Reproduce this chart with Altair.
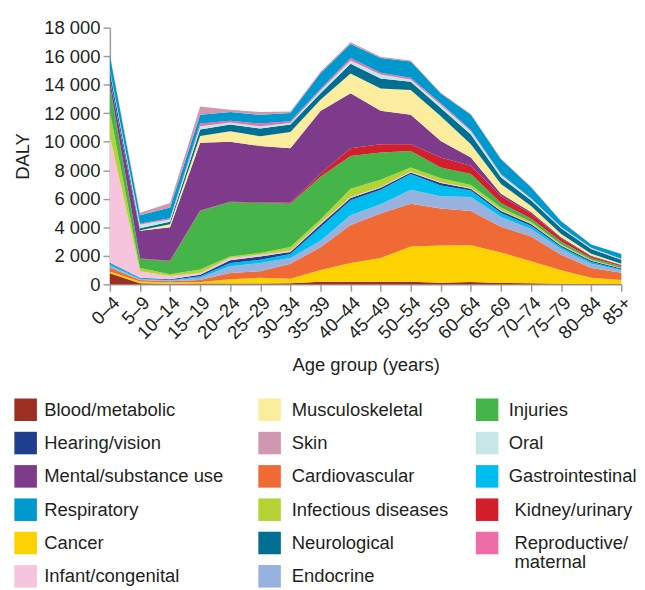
import altair as alt
import pandas as pd

ages = ["0–4", "5–9", "10–14", "15–19", "20–24", "25–29", "30–34", "35–39", "40–44",
        "45–49", "50–54", "55–59", "60–64", "65–69", "70–74", "75–79", "80–84", "85+"]

# stacking order (bottom to top)
categories = ["Blood/metabolic", "Cancer", "Cardiovascular", "Endocrine", "Gastrointestinal",
              "Hearing/vision", "Infant/congenital", "Infectious diseases", "Injuries",
              "Kidney/urinary", "Mental/substance use", "Musculoskeletal", "Neurological",
              "Oral", "Reproductive/maternal", "Respiratory", "Skin"]

blood_metabolic = [780, 80, 50, 60, 60, 60, 70, 180, 180, 180, 180, 120, 160, 100, 70, 50, 30, 20]
cancer = [120, 120, 80, 100, 290, 400, 320, 820, 1320, 1670, 2480, 2600, 2590, 2140, 1550, 940, 430, 280]
cardiovascular = [280, 100, 80, 140, 450, 460, 1060, 1600, 2660, 3120, 3000, 2590, 2400, 1800, 1730, 1090, 690, 510]
endocrine = [120, 60, 60, 160, 470, 580, 400, 450, 690, 640, 970, 860, 970, 690, 530, 390, 300, 180]
gastrointestinal = [170, 60, 40, 100, 230, 230, 270, 950, 1040, 1020, 1110, 760, 460, 280, 230, 140, 120, 50]
hearing_vision = [50, 40, 40, 110, 190, 230, 140, 200, 160, 140, 110, 180, 120, 140, 120, 90, 90, 70]
infant_congenital = [8880, 460, 230, 130, 160, 120, 90, 100, 70, 60, 70, 50, 50, 40, 30, 20, 10, 10]
infectious = [1700, 230, 120, 240, 110, 110, 260, 250, 580, 510, 280, 280, 220, 190, 130, 100, 60, 30]
injuries = [1800, 650, 920, 4110, 3810, 3510, 3050, 3000, 2300, 1900, 1150, 760, 770, 320, 230, 180, 120, 120]
kidney_urinary = [50, 20, 40, 30, 30, 40, 60, 200, 540, 580, 470, 690, 570, 470, 350, 230, 110, 70]
mental = [400, 1940, 2340, 4750, 4200, 3960, 3820, 4400, 3860, 2350, 2070, 1160, 580, 180, 110, 70, 40, 30]
musculoskeletal = [50, 30, 220, 470, 740, 690, 1150, 800, 1380, 1570, 1740, 1730, 930, 690, 420, 230, 150, 80]
neurological = [500, 150, 170, 450, 460, 530, 510, 450, 690, 690, 570, 580, 690, 470, 390, 400, 320, 280]
oral = [100, 250, 150, 230, 150, 170, 120, 200, 230, 280, 160, 230, 230, 180, 110, 70, 70, 50]
reproductive = [50, 80, 90, 190, 130, 180, 110, 100, 170, 120, 120, 110, 80, 50, 30, 20, 20, 10]
respiratory = [1000, 580, 750, 630, 600, 620, 580, 1100, 990, 1040, 1150, 690, 1070, 1040, 780, 400, 230, 330]
skin = [50, 170, 320, 570, 160, 190, 110, 100, 110, 90, 70, 50, 50, 30, 30, 20, 10, 10]

series = [blood_metabolic, cancer, cardiovascular, endocrine, gastrointestinal, hearing_vision,
          infant_congenital, infectious, injuries, kidney_urinary, mental, musculoskeletal,
          neurological, oral, reproductive, respiratory, skin]

palette = ["#9b2f21", "#fcd200", "#f06a36", "#97b2de", "#00bdef", "#1e3f8e",
           "#f6c4dc", "#b5d334", "#45b549", "#d21f2b", "#7e3a8b", "#fcec9d",
           "#006f92", "#c6e7e6", "#ee6da9", "#0099cd", "#cf98b0"]

legend_columns = [
    ["Blood/metabolic", "Hearing/vision", "Mental/substance use", "Respiratory", "Cancer", "Infant/congenital"],
    ["Musculoskeletal", "Skin", "Cardiovascular", "Infectious diseases", "Neurological", "Endocrine"],
    ["Injuries", "Oral", "Gastrointestinal", "Kidney/urinary", "Reproductive/maternal"],
]

rows = []
for i, (cat, vals) in enumerate(zip(categories, series)):
    for age, v in zip(ages, vals):
        rows.append({"cause": cat, "age": age, "daly": v, "idx": i})
df = pd.DataFrame(rows)

leg_rows = []
for c, names in enumerate(legend_columns):
    for r, n in enumerate(names):
        if n == "Reproductive/maternal":
            leg_rows.append({"name": n, "col": c, "row": r, "line": 0, "label": "Reproductive/"})
            leg_rows.append({"name": n, "col": c, "row": r, "line": 1, "label": "maternal"})
        else:
            leg_rows.append({"name": n, "col": c, "row": r, "line": 0, "label": n})
leg = pd.DataFrame(leg_rows)

FONT = "Liberation Sans"
TXT = "#231f20"
FS = 18.8
color_scale = alt.Scale(domain=categories, range=palette)

main = alt.Chart(df).mark_area(strokeWidth=0, opacity=1).encode(
    x=alt.X("age:N", sort=ages, scale=alt.Scale(type="point", padding=0),
            axis=alt.Axis(title="Age group (years)", labelAngle=-45, labelAlign="right",
                          labelBaseline="top", labelPadding=2, titlePadding=14)),
    y=alt.Y("daly:Q", stack="zero", scale=alt.Scale(domain=[0, 18000], nice=False),
            axis=alt.Axis(title="DALY", values=list(range(0, 18001, 2000)),
                          labelExpr="replace(format(datum.value, ','), ',', ' ')",
                          labelPadding=3, titlePadding=12)),
    color=alt.Color("cause:N", scale=color_scale, legend=None),
    order=alt.Order("idx:Q", sort="ascending"),
).properties(width=522, height=262)

base = alt.Chart(leg).encode(
    x=alt.X("col:O", axis=None, scale=alt.Scale(type="point", padding=0)),
    y=alt.Y("row:O", axis=None, scale=alt.Scale(type="point", padding=0)),
)

SHIFT = -86  # legend sits left of the plot origin
layers = []
for c, xoff in [(0, 0), (1, 13.5), (2, 0)]:
    layers.append(
        base.transform_filter(f"datum.col == {c} && datum.line == 0")
        .mark_square(size=529, opacity=1, strokeWidth=0, xOffset=SHIFT + xoff)
        .encode(color=alt.Color("name:N", scale=color_scale, legend=None))
    )

text_kw = dict(align="left", baseline="middle", font=FONT, fontSize=FS, color=TXT, xOffset=SHIFT)
layers.append(base.transform_filter("datum.col == 0").mark_text(dx=19, **text_kw).encode(text="label:N"))
layers.append(base.transform_filter("datum.col == 1").mark_text(dx=36, **text_kw).encode(text="label:N"))
layers.append(base.transform_filter("datum.col == 2 && datum.row < 3").mark_text(dx=22, **text_kw).encode(text="label:N"))
layers.append(base.transform_filter("datum.col == 2 && datum.row >= 3 && datum.line == 0").mark_text(dx=28, **text_kw).encode(text="label:N"))
layers.append(base.transform_filter("datum.col == 2 && datum.line == 1").mark_text(dx=28, dy=20, **text_kw).encode(text="label:N"))

legend = alt.layer(*layers).properties(width=471, height=170)

chart = alt.vconcat(main, legend, spacing=23).properties(
    padding={"left": 5, "top": 5, "right": 0, "bottom": 0}
).configure_view(stroke=None).configure_axis(
    grid=False,
    domainColor="#9d9d9d", domainWidth=1.5,
    tickColor="#9d9d9d", tickWidth=1.5, tickSize=7,
    labelFont=FONT, labelFontSize=FS, labelColor=TXT,
    titleFont=FONT, titleFontSize=FS, titleFontWeight="normal", titleColor=TXT,
)

chart.save("out.html", embed_options={"renderer": "svg", "actions": False})
